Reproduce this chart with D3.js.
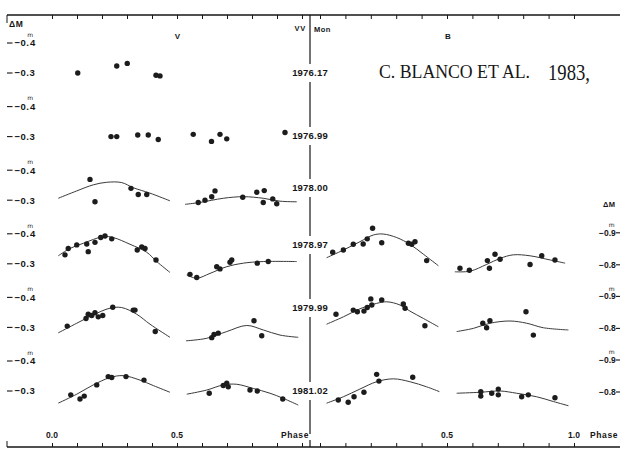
<!DOCTYPE html>
<html>
<head>
<meta charset="utf-8">
<script src="https://cdn.jsdelivr.net/npm/d3@7"></script>
<style>
  html, body { margin: 0; padding: 0; background: #fff; }
  svg { display: block; }
  text { font-family: "Liberation Sans", Arial, sans-serif; font-weight: bold; fill: #161616; }
  text.serif { font-family: "Liberation Serif", "Times New Roman", serif; font-weight: normal; }
  tspan.unit { font-family: "DejaVu Sans", sans-serif; font-weight: normal; }
</style>
</head>
<body>
<svg id="chart" width="620" height="450"></svg>
<script>
// ---- epochs and tick labels ----
const epochs = ["1976.17", "1976.99", "1978.00", "1978.97", "1979.99", "1981.02"];
const vTickValues = [-0.4, -0.3];
const bTickValues = [-0.9, -0.8];
const phaseLabelsV = [0.0, 0.5];
const phaseLabelsB = [0.5, 1.0];
const phaseTicks = [0, 0.1, 0.2, 0.3, 0.4, 0.5, 0.6, 0.7, 0.8, 0.9, 1.0];

// ---- V observations [phase, dM] ----
const vObs1976_17 = [[0.103,-0.300],[0.259,-0.322],[0.301,-0.330],[0.416,-0.293],[0.432,-0.291]];
const vObs1976_99 = [[0.236,-0.300],[0.259,-0.300],[0.343,-0.305],[0.385,-0.305],[0.425,-0.291],
  [0.565,-0.307],[0.638,-0.285],[0.672,-0.307],[0.699,-0.293],[0.932,-0.313]];
const vObs1978_00 = [[0.152,-0.365],[0.172,-0.295],[0.316,-0.337],[0.345,-0.318],[0.379,-0.318],
  [0.585,-0.293],[0.612,-0.300],[0.639,-0.311],[0.652,-0.329],[0.763,-0.309],[0.819,-0.325],
  [0.849,-0.330],[0.845,-0.293],[0.883,-0.304],[0.899,-0.289]];
const vObs1978_97 = [[0.052,-0.328],[0.065,-0.348],[0.099,-0.359],[0.139,-0.362],[0.145,-0.338],
  [0.172,-0.367],[0.195,-0.382],[0.212,-0.387],[0.239,-0.378],[0.341,-0.343],[0.359,-0.353],
  [0.372,-0.348],[0.416,-0.312],
  [0.552,-0.267],[0.579,-0.257],[0.659,-0.291],[0.672,-0.284],[0.712,-0.305],[0.719,-0.312],
  [0.821,-0.302],[0.865,-0.307]];
const vObs1979_99 = [[0.061,-0.304],[0.136,-0.328],[0.145,-0.341],[0.159,-0.337],[0.172,-0.346],
  [0.185,-0.333],[0.203,-0.337],[0.243,-0.363],[0.325,-0.354],[0.332,-0.354],[0.413,-0.287],
  [0.639,-0.268],[0.648,-0.278],[0.665,-0.282],[0.808,-0.321],[0.839,-0.274]];
const vObs1981_02 = [[0.075,-0.288],[0.112,-0.275],[0.129,-0.284],[0.179,-0.319],[0.225,-0.345],
  [0.239,-0.342],[0.296,-0.345],[0.368,-0.334],
  [0.629,-0.293],[0.685,-0.317],[0.699,-0.324],[0.705,-0.313],[0.792,-0.303],[0.821,-0.300],
  [0.923,-0.275]];

// ---- V fitted curves, first and second half-cycle ----
const vFit1978_00a = [[0.025,-0.306],[0.099,-0.329],[0.165,-0.348],[0.219,-0.356],[0.279,-0.355],[0.325,-0.339],[0.392,-0.322],[0.472,-0.298]];
const vFit1978_00b = [[0.532,-0.287],[0.592,-0.293],[0.685,-0.306],[0.765,-0.311],[0.845,-0.306],[0.912,-0.297],[0.979,-0.295]];
const vFit1978_97a = [[0.025,-0.325],[0.072,-0.348],[0.125,-0.364],[0.205,-0.385],[0.245,-0.382],[0.312,-0.361],[0.379,-0.336],[0.419,-0.307],[0.472,-0.273]];
const vFit1978_97b = [[0.539,-0.265],[0.579,-0.255],[0.632,-0.270],[0.699,-0.291],[0.765,-0.302],[0.845,-0.307],[0.979,-0.307]];
const vFit1979_99a = [[0.025,-0.283],[0.099,-0.313],[0.165,-0.339],[0.232,-0.360],[0.279,-0.362],[0.339,-0.341],[0.392,-0.310],[0.472,-0.269]];
const vFit1979_99b = [[0.536,-0.258],[0.619,-0.266],[0.699,-0.287],[0.779,-0.306],[0.845,-0.292],[0.912,-0.276],[0.985,-0.269]];
const vFit1981_02a = [[0.025,-0.262],[0.099,-0.290],[0.165,-0.319],[0.232,-0.342],[0.285,-0.348],[0.352,-0.334],[0.405,-0.317],[0.472,-0.296]];
const vFit1981_02b = [[0.539,-0.290],[0.619,-0.303],[0.685,-0.319],[0.739,-0.321],[0.805,-0.308],[0.872,-0.293],[0.925,-0.277],[0.985,-0.256]];

// ---- B observations [phase, dM] ----
const bObs1978_97 = [[0.050,-0.836],[0.092,-0.843],[0.131,-0.861],[0.170,-0.862],[0.186,-0.878],
  [0.207,-0.911],[0.243,-0.866],[0.348,-0.864],[0.361,-0.861],[0.374,-0.869],[0.420,-0.810],
  [0.551,-0.786],[0.588,-0.780],[0.659,-0.810],[0.667,-0.786],[0.689,-0.830],[0.709,-0.814],
  [0.827,-0.798],[0.873,-0.825],[0.925,-0.812]];
const bObs1979_99 = [[0.063,-0.841],[0.131,-0.854],[0.147,-0.849],[0.173,-0.851],[0.186,-0.862],
  [0.204,-0.870],[0.200,-0.889],[0.243,-0.886],[0.328,-0.873],[0.335,-0.860],[0.413,-0.805],
  [0.641,-0.813],[0.656,-0.799],[0.669,-0.821],[0.811,-0.849],[0.840,-0.776]];
const bObs1981_02 = [[0.072,-0.772],[0.111,-0.765],[0.134,-0.782],[0.173,-0.796],[0.223,-0.852],
  [0.232,-0.831],[0.365,-0.843],
  [0.633,-0.798],[0.633,-0.784],[0.676,-0.793],[0.702,-0.806],[0.702,-0.788],[0.794,-0.782],
  [0.820,-0.788],[0.925,-0.779]];

// ---- B fitted curves ----
const bFit1978_97a = [[0.026,-0.819],[0.092,-0.843],[0.157,-0.869],[0.210,-0.890],[0.249,-0.893],[0.302,-0.882],[0.354,-0.861],[0.407,-0.830],[0.466,-0.794]];
const bFit1978_97b = [[0.531,-0.775],[0.591,-0.777],[0.656,-0.798],[0.709,-0.817],[0.761,-0.828],[0.827,-0.825],[0.906,-0.812],[0.965,-0.802]];
const bFit1979_99a = [[0.026,-0.810],[0.092,-0.833],[0.157,-0.858],[0.223,-0.875],[0.263,-0.880],[0.315,-0.870],[0.354,-0.851],[0.407,-0.828],[0.466,-0.802]];
const bFit1979_99b = [[0.538,-0.787],[0.604,-0.797],[0.669,-0.813],[0.748,-0.820],[0.814,-0.813],[0.879,-0.799],[0.978,-0.792]];
const bFit1981_02a = [[0.026,-0.762],[0.092,-0.782],[0.157,-0.806],[0.223,-0.829],[0.289,-0.838],[0.354,-0.829],[0.420,-0.813],[0.470,-0.798]];
const bFit1981_02b = [[0.538,-0.793],[0.630,-0.796],[0.709,-0.800],[0.774,-0.793],[0.853,-0.782],[0.919,-0.767],[0.978,-0.754]];

// ---- table of rows built from the arrays above ----
const rows = [
  { epoch: epochs[0], vObs: vObs1976_17, vFit: [], bObs: null, bFit: [] },
  { epoch: epochs[1], vObs: vObs1976_99, vFit: [], bObs: null, bFit: [] },
  { epoch: epochs[2], vObs: vObs1978_00, vFit: [vFit1978_00a, vFit1978_00b], bObs: null, bFit: [] },
  { epoch: epochs[3], vObs: vObs1978_97, vFit: [vFit1978_97a, vFit1978_97b], bObs: bObs1978_97, bFit: [bFit1978_97a, bFit1978_97b] },
  { epoch: epochs[4], vObs: vObs1979_99, vFit: [vFit1979_99a, vFit1979_99b], bObs: bObs1979_99, bFit: [bFit1979_99a, bFit1979_99b] },
  { epoch: epochs[5], vObs: vObs1981_02, vFit: [vFit1981_02a, vFit1981_02b], bObs: bObs1981_02, bFit: [bFit1981_02a, bFit1981_02b] }
];

// ---- layout ----
const W = 620;
const frameTop = 15, frameBottom = 447, frameLeft = 7;
const midX = 310;
const svg = d3.select("#chart");
const ink = "#161616";

const xV = d3.scaleLinear().domain([0, 1]).range([52, 302]);
const xB = d3.scaleLinear().domain([0, 1]).range([320, 574]);
// y of each row's lower reference level (-0.3 in V, -0.8 in B)
const rowY = d3.scaleLinear().domain([0, rows.length - 1]).range([73, 391]);
const magStep = 32; // pixels per 0.1 mag
const yVFor = i => d3.scaleLinear().domain([-0.4, -0.3]).range([rowY(i) - magStep, rowY(i)]);
const yBFor = i => d3.scaleLinear().domain([-0.9, -0.8]).range([rowY(i) - magStep, rowY(i)]);

// ---- frame lines with phase ticks ----
svg.append("line").attr("x1", frameLeft).attr("x2", W).attr("y1", frameTop).attr("y2", frameTop)
  .attr("stroke", ink).attr("stroke-width", 1.3);
svg.append("line").attr("x1", frameLeft).attr("x2", W).attr("y1", frameBottom).attr("y2", frameBottom)
  .attr("stroke", ink).attr("stroke-width", 1.3);
svg.append("line").attr("x1", frameLeft).attr("x2", frameLeft).attr("y1", frameTop).attr("y2", frameTop + 8)
  .attr("stroke", ink).attr("stroke-width", 1);
svg.append("line").attr("x1", frameLeft).attr("x2", frameLeft).attr("y1", frameBottom - 6).attr("y2", frameBottom)
  .attr("stroke", ink).attr("stroke-width", 1);

function tickAxis(scale, orient, y) {
  const ax = (orient === "down" ? d3.axisBottom(scale) : d3.axisTop(scale))
    .tickValues(phaseTicks).tickSize(4).tickFormat("");
  const g = svg.append("g").attr("transform", `translate(0,${y})`).call(ax);
  g.select(".domain").remove();
  g.selectAll(".tick line").attr("stroke", ink).attr("stroke-width", 1);
}
tickAxis(xV, "down", frameTop);
tickAxis(xB, "down", frameTop);
tickAxis(xV, "up", frameBottom);
tickAxis(xB, "up", frameBottom);
svg.append("line").attr("x1", midX).attr("x2", midX).attr("y1", frameBottom - 7).attr("y2", frameBottom)
  .attr("stroke", ink).attr("stroke-width", 1.2);

// ---- central epoch column ----
const epochLabelY = [73, 136, 188, 245, 308, 391];
const gapHalf = 9;
const segStarts = [frameTop].concat(epochLabelY.map(y => y + gapHalf));
const segEnds = epochLabelY.map(y => y - gapHalf).concat([434]);
segStarts.forEach((s, k) => {
  svg.append("line").attr("x1", midX).attr("x2", midX).attr("y1", s).attr("y2", segEnds[k])
    .attr("stroke", ink).attr("stroke-width", 1.2);
});
svg.selectAll("text.epoch").data(rows).enter().append("text")
  .attr("class", "epoch")
  .attr("x", midX).attr("y", (d, i) => epochLabelY[i])
  .attr("text-anchor", "middle").attr("dominant-baseline", "middle")
  .attr("font-size", 9.5).attr("letter-spacing", 0.2)
  .text(d => d.epoch);

svg.append("text").attr("x", 306).attr("y", 29.5).attr("text-anchor", "end")
  .attr("dominant-baseline", "middle").attr("font-size", 7.5).attr("letter-spacing", 0.8).text("VV");
svg.append("text").attr("x", 314).attr("y", 30.5)
  .attr("dominant-baseline", "middle").attr("font-size", 7.5).attr("letter-spacing", 0.5).text("Mon");

// ---- panel titles and citation ----
svg.append("text").attr("x", 177.5).attr("y", 37).attr("text-anchor", "middle")
  .attr("dominant-baseline", "middle").attr("font-size", 8).text("V");
svg.append("text").attr("x", 448).attr("y", 37).attr("text-anchor", "middle")
  .attr("dominant-baseline", "middle").attr("font-size", 8).text("B");
svg.append("text").attr("class", "serif").attr("x", 379).attr("y", 78)
  .attr("font-size", 19).attr("textLength", 151).attr("lengthAdjust", "spacingAndGlyphs")
  .text("C. BLANCO ET AL.");
svg.append("text").attr("class", "serif").attr("x", 548).attr("y", 80)
  .attr("font-size", 24).attr("textLength", 42).attr("lengthAdjust", "spacingAndGlyphs")
  .text("1983,");

// ---- magnitude labels ----
svg.append("text").attr("x", 9).attr("y", 24.5).attr("dominant-baseline", "middle")
  .attr("font-size", 8.5).attr("letter-spacing", 0.6).text("ΔM");
svg.append("text").attr("x", 603).attr("y", 205).attr("dominant-baseline", "middle")
  .attr("font-size", 7.5).attr("letter-spacing", 0.3).text("ΔM");

// A magnitude label, optionally with the small "m" unit raised over the decimal point.
function magLabel(x, y, v, size, withUnit, minus) {
  const s = d3.format(".1f")(v).replace("-", minus);
  const t = svg.append("text").attr("x", x).attr("y", y + size * 0.35)
    .attr("font-size", size).attr("letter-spacing", size > 9 ? 0.5 : 0);
  if (!withUnit) { t.text(s); return; }
  const head = s.slice(0, -1), tail = s.slice(-1);
  const unitSize = 6, unitW = unitSize * 0.97;
  t.append("tspan").text(head);
  t.append("tspan").attr("class", "unit").attr("font-size", unitSize)
    .attr("dx", -2.2).attr("dy", -size).text("m");
  t.append("tspan").attr("dx", -(unitW - 2.2)).attr("dy", size).text(tail);
}

rows.forEach((row, i) => {
  const yV = yVFor(i);
  vTickValues.forEach((v, k) => {
    const y = yV(v) + (k === 0 ? 2 : 0);
    svg.append("line").attr("x1", frameLeft).attr("x2", 12.5).attr("y1", y).attr("y2", y)
      .attr("stroke", ink).attr("stroke-width", 1.1);
    magLabel(14.5, y, v, 9.5, k === 0, "\u2212");
  });
  if (row.bObs) {
    const yB = yBFor(i);
    bTickValues.forEach((v, k) => {
      const y = yB(v) + 1;
      magLabel(599, y, v, 8.5, k === 0, "-");
      svg.append("line").attr("x1", 616).attr("x2", 620).attr("y1", y).attr("y2", y)
        .attr("stroke", ink).attr("stroke-width", 1.1);
    });
  }
});

// ---- phase labels ----
const phaseY = 436;
phaseLabelsV.forEach(p => svg.append("text").attr("x", xV(p)).attr("y", phaseY)
  .attr("text-anchor", "middle").attr("dominant-baseline", "middle").attr("font-size", 8.5)
  .text(d3.format(".1f")(p)));
phaseLabelsB.forEach(p => svg.append("text").attr("x", xB(p)).attr("y", phaseY)
  .attr("text-anchor", "middle").attr("dominant-baseline", "middle").attr("font-size", 8.5)
  .text(d3.format(".1f")(p)));
svg.append("text").attr("x", 295).attr("y", phaseY).attr("text-anchor", "middle")
  .attr("dominant-baseline", "middle").attr("font-size", 8.5).attr("letter-spacing", 0.6).text("Phase");
svg.append("text").attr("x", 590).attr("y", phaseY)
  .attr("dominant-baseline", "middle").attr("font-size", 8.5).attr("letter-spacing", 0.6).text("Phase");

// ---- light curves ----
function drawSeries(obs, fits, x, y) {
  const line = d3.line().x(d => x(d[0])).y(d => y(d[1])).curve(d3.curveCatmullRom.alpha(0.5));
  fits.forEach(f => svg.append("path").attr("d", line(f)).attr("fill", "none")
    .attr("stroke", "#3a3a3a").attr("stroke-width", 1));
  svg.append("g").selectAll("circle").data(obs).enter().append("circle")
    .attr("cx", d => x(d[0])).attr("cy", d => y(d[1])).attr("r", 2.7)
    .attr("fill", "#1c1c1c");
}
rows.forEach((row, i) => {
  drawSeries(row.vObs, row.vFit, xV, yVFor(i));
  if (row.bObs) drawSeries(row.bObs, row.bFit, xB, yBFor(i));
});
</script>
</body>
</html>
